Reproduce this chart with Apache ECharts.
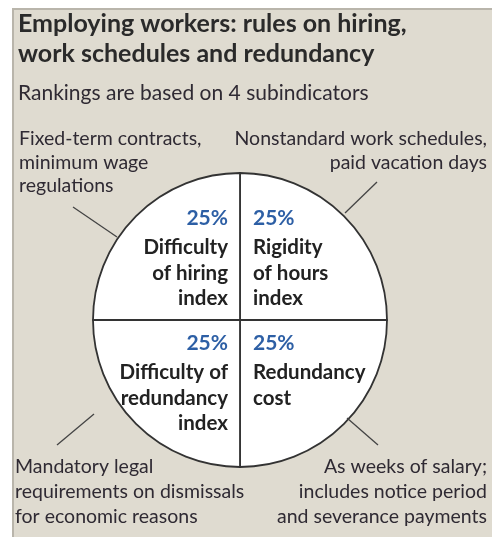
<!DOCTYPE html>
<html>
<head>
<meta charset="utf-8">
<script src="https://cdn.jsdelivr.net/npm/echarts@6/dist/echarts.min.js"></script>
<style>
  html, body { margin: 0; padding: 0; background: #fff; }
  #chart { width: 492px; height: 537px; }
</style>
</head>
<body>
<div id="chart"></div>
<script>
// quadrants, clockwise from 12 o'clock
const quadrantNames = [
  'Rigidity\nof hours\nindex',
  'Redundancy\ncost',
  'Difficulty of\nredundancy\nindex',
  'Difficulty\nof hiring\nindex'
]
const shares = [25, 25, 25, 25]
const notes = [
  'Nonstandard work schedules,\npaid vacation days',
  'As weeks of salary;\nincludes notice period\nand severance payments',
  'Mandatory legal\nrequirements on dismissals\nfor economic reasons',
  'Fixed-term contracts,\nminimum wage\nregulations'
]
const titleLines = ['Employing workers: rules on hiring,', 'work schedules and redundancy']
const subtitle = 'Rankings are based on 4 subindicators'

const cx = 240
const cy = 320
const R = 147
const font = 'Lato, "Noto Sans", sans-serif'
const ink = '#2f2a33'
const blue = '#2d5fa5'

const chart = echarts.init(document.getElementById('chart'))

// text anchors inside each quadrant (right half left-aligned, left half right-aligned)
const inner = [
  { x: cx + 13, y: 206, align: 'left' },
  { x: cx + 13, y: 331, align: 'left' },
  { x: cx - 12, y: 331, align: 'right' },
  { x: cx - 12, y: 206, align: 'right' }
]
const notePos = [
  { x: 487, y: 127, align: 'right', lh: 23.5 },
  { x: 487, y: 454, align: 'right', lh: 25 },
  { x: 15, y: 454, align: 'left', lh: 25 },
  { x: 19, y: 127, align: 'left', lh: 23.5 }
]
const leaders = [
  [377, 182, 345, 213],
  [378, 445, 347, 418],
  [57, 445, 94, 414],
  [73, 207, 117, 237]
]

const graphics = [
  {
    type: 'rect', z: -10,
    shape: { x: 13, y: 9, width: 490, height: 540 },
    style: { fill: '#dfdbd0', stroke: '#b9b5ab', lineWidth: 2 }
  },
  {
    type: 'text', x: 18, y: 9, z: 100,
    style: {
      text: titleLines.join('\n'), font: 'bold 25px ' + font,
      fill: '#2a2a2a', lineHeight: 30
    }
  },
  {
    type: 'text', x: 18, y: 81, z: 100,
    style: { text: subtitle, font: '21px ' + font, fill: ink, lineHeight: 24 }
  }
]

shares.forEach(function (s, i) {
  graphics.push({
    type: 'text', x: inner[i].x, y: inner[i].y, z: 100,
    style: {
      text: s + '%', font: 'bold 21px ' + font, fill: blue,
      align: inner[i].align, lineHeight: 24
    }
  })
  graphics.push({
    type: 'text', x: inner[i].x, y: inner[i].y + 29, z: 100,
    style: {
      text: quadrantNames[i], font: 'bold 20.5px ' + font, fill: '#222',
      align: inner[i].align, lineHeight: 25.5
    }
  })
  graphics.push({
    type: 'text', x: notePos[i].x, y: notePos[i].y, z: 100,
    style: {
      text: notes[i], font: '19.5px ' + font, fill: ink,
      align: notePos[i].align, lineHeight: notePos[i].lh
    }
  })
  const l = leaders[i]
  graphics.push({
    type: 'line', z: 100, shape: { x1: l[0], y1: l[1], x2: l[2], y2: l[3] },
    style: { stroke: '#444', lineWidth: 1.3 }
  })
})

const option = {
  animation: false,
  graphic: graphics,
  series: [
    {
      type: 'pie',
      center: [cx, cy],
      radius: R,
      startAngle: 90,
      clockwise: true,
      silent: true,
      z: 1,
      label: { show: false },
      labelLine: { show: false },
      itemStyle: { color: '#fff', borderColor: '#333', borderWidth: 1.8 },
      data: shares.map(function (v, i) {
        return { name: quadrantNames[i], value: v }
      })
    }
  ]
}
chart.setOption(option)
</script>
</body>
</html>
